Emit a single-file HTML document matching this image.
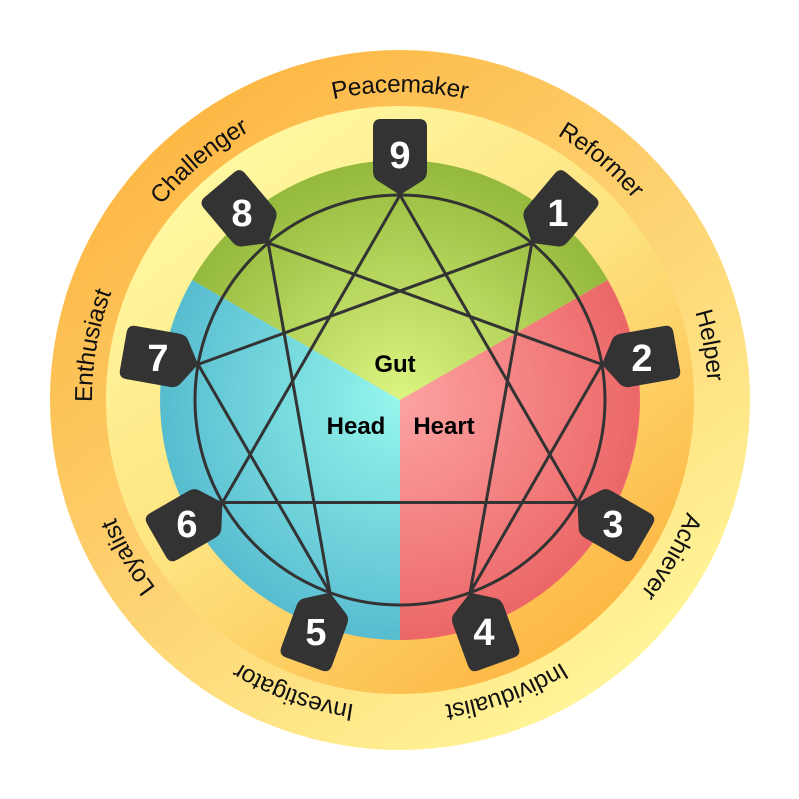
<!DOCTYPE html>
<html><head><meta charset="utf-8"><style>html,body{margin:0;padding:0;background:#fff}svg{display:block}</style></head>
<body>
<svg width="799" height="799" viewBox="0 0 799 799" xmlns="http://www.w3.org/2000/svg">
<defs>
<linearGradient id="outer" x1="0.2" y1="0.1" x2="0.8" y2="0.9">
<stop offset="0" stop-color="#fdb845"/><stop offset="0.5" stop-color="#fdd272"/><stop offset="1" stop-color="#fff598"/></linearGradient>
<linearGradient id="inner" x1="0.2" y1="0.1" x2="0.8" y2="0.9">
<stop offset="0" stop-color="#fff8a0"/><stop offset="0.5" stop-color="#fde27e"/><stop offset="1" stop-color="#fdb845"/></linearGradient>
<radialGradient id="g" cx="400" cy="400" r="240" gradientUnits="userSpaceOnUse"><stop offset="0" stop-color="#dcf582"/><stop offset="1" stop-color="#94b93c"/></radialGradient>
<radialGradient id="b" cx="400" cy="400" r="240" gradientUnits="userSpaceOnUse"><stop offset="0" stop-color="#95f7ec"/><stop offset="1" stop-color="#58bcd0"/></radialGradient>
<radialGradient id="r" cx="400" cy="400" r="240" gradientUnits="userSpaceOnUse"><stop offset="0" stop-color="#fca3a2"/><stop offset="1" stop-color="#ec6767"/></radialGradient>
<path id="lp" d="M400,716 A316,316 0 1 1 400.01,716"/>
<path id="badge" d="M0,0 L22,-14 Q27,-17 27,-24 L27,-68 Q27,-76 19,-76 L-19,-76 Q-27,-76 -27,-68 L-27,-24 Q-27,-17 -22,-14 Z" fill="#333"/>
</defs>
<circle cx="400" cy="400" r="350" fill="url(#outer)"/>
<circle cx="400" cy="400" r="294" fill="url(#inner)"/>
<path d="M400,400 L192.2,280 A240,240 0 0 1 607.8,280 Z" fill="url(#g)"/>
<path d="M400,400 L607.8,280 A240,240 0 0 1 400,640 Z" fill="url(#r)"/>
<path d="M400,400 L400,640 A240,240 0 0 1 192.2,280 Z" fill="url(#b)"/>
<g font-family="Liberation Sans, sans-serif" font-weight="bold" font-size="24" fill="#000" text-anchor="middle">
<text x="395" y="372">Gut</text><text x="356" y="434">Head</text><text x="444" y="434">Heart</text></g>
<g fill="none" stroke="#333" stroke-width="3" stroke-linejoin="round">
<circle cx="400" cy="400" r="205"/>
<polygon points="531.8,243.0 470.1,592.6 601.9,364.4 268.2,243.0 329.9,592.6 198.1,364.4"/>
<polygon points="400,195 577.5,502.5 222.5,502.5"/>
</g>
<g transform="translate(400,400)">
<use href="#badge" transform="rotate(0) translate(0,-205)"/>
<use href="#badge" transform="rotate(40) translate(0,-205)"/>
<use href="#badge" transform="rotate(80) translate(0,-205)"/>
<use href="#badge" transform="rotate(120) translate(0,-205)"/>
<use href="#badge" transform="rotate(160) translate(0,-205)"/>
<use href="#badge" transform="rotate(200) translate(0,-205)"/>
<use href="#badge" transform="rotate(240) translate(0,-205)"/>
<use href="#badge" transform="rotate(280) translate(0,-205)"/>
<use href="#badge" transform="rotate(320) translate(0,-205)"/>
</g>
<g font-family="Liberation Sans, sans-serif" font-weight="bold" font-size="38" fill="#fff" text-anchor="middle">
<text x="400" y="168">9</text>
<text x="558" y="226">1</text>
<text x="642" y="371">2</text>
<text x="613" y="537">3</text>
<text x="484" y="645">4</text>
<text x="316" y="645">5</text>
<text x="187" y="537">6</text>
<text x="158" y="371">7</text>
<text x="242" y="226">8</text>
</g>
<g font-family="Liberation Sans, sans-serif" font-size="24.5" fill="#111" text-anchor="middle" dominant-baseline="central">
<text><textPath href="#lp" startOffset="50%">Peacemaker</textPath></text>
<text><textPath href="#lp" startOffset="61.11%">Reformer</textPath></text>
<text><textPath href="#lp" startOffset="72.22%">Helper</textPath></text>
<text><textPath href="#lp" startOffset="83.33%">Achiever</textPath></text>
<text><textPath href="#lp" startOffset="94.44%">Individualist</textPath></text>
<text><textPath href="#lp" startOffset="5.56%">Investigator</textPath></text>
<text><textPath href="#lp" startOffset="16.67%">Loyalist</textPath></text>
<text><textPath href="#lp" startOffset="27.78%">Enthusiast</textPath></text>
<text><textPath href="#lp" startOffset="38.89%">Challenger</textPath></text>
</g>
</svg>
</body></html>
